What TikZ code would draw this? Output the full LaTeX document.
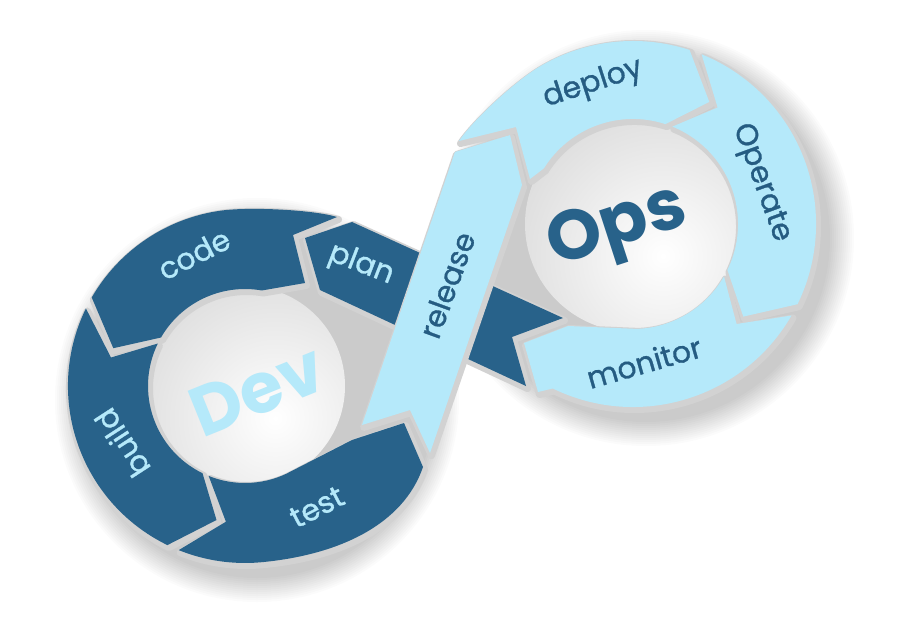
\documentclass[tikz,border=0pt]{standalone}
\usepackage{fontspec}
\setmainfont{Poppins}
\newfontfamily\labfont{Poppins}[FakeBold=1]
\definecolor{devblue}{HTML}{28628A}
\definecolor{opsblue}{HTML}{B5E9FA}
\definecolor{opstext}{HTML}{255C82}
\definecolor{gapgray}{HTML}{D2D2D2}

\begin{document}
\begin{tikzpicture}
  [x=1pt,y=-1pt,line join=round,
   seg/.style={preaction={fill=gapgray,draw=gapgray,line width=7pt,
     transform canvas={shift={(1.5,2.5)}}}},
   dev/.style={seg,fill=devblue},
   ops/.style={seg,fill=opsblue},
   lab/.style={inner sep=0pt,font=\labfont\fontsize{30}{30}\selectfont},
   big/.style={inner sep=0pt,font=\fontsize{70}{70}\selectfont\bfseries}]

  \useasboundingbox (0,0) rectangle (900,630);
  \fill[white] (0,0) rectangle (900,630);

  % soft shadow
  \foreach \k in {1,3,...,25}
    \fill[black,opacity=.014] (257,400) circle[radius=177+\k] (646,238) circle[radius=183+\k];

  % holes
  \begin{scope}
    \clip (245,386) circle[radius=100] (633,224) circle[radius=108];
    \shade[inner color=white,outer color=black!14] (275,418) circle[radius=160];
    \shade[inner color=white,outer color=black!14] (663,256) circle[radius=165];
  \end{scope}

  % Dev loop
  \path[dev] (337,217) .. controls (315,210) and (250,206.5) .. (220.4,210.7)
    arc[start angle=262,end angle=210,radius=177] -- (113.3,348.2) -- (161,337.5)
    arc[start angle=210,end angle=280,radius=97] -- (305,283) -- (293,235) -- cycle;
  \path[dev] (85.9,308.4) arc[start angle=206,end angle=116,radius=177] -- (216.5,520) -- (202.5,473.2)
    arc[start angle=116,end angle=206,radius=97] -- (111,357.5) -- cycle;
  \path[dev] (178.7,550.1) arc[start angle=112,end angle=85,radius=177]
    .. controls (340,555) and (403.5,524) .. (423,467) -- (404,423) -- (352,440) -- (286,473.9)
    arc[start angle=65,end angle=112,radius=97] -- (225.9,521.7) -- cycle;
  \path[dev] (352,222) -- (563,318) -- (512,337) -- (526,386) -- (320,290) -- (305,238) -- cycle;

  % Ops loop
  \path[ops] (362,425) -- (455,152) -- (510,135) -- (522,185) -- (430,453) -- (410,410) -- cycle;
  \path[ops] (459,141) .. controls (472.8,120.3) and (515.5,80.5) .. (541.5,65.5)
    arc[start angle=240,end angle=288,radius=183] -- (709.3,101.9) -- (665.4,124.1)
    arc[start angle=288,end angle=212,radius=105] -- (530,179) -- (516,127) -- cycle;
  \path[ops] (701.6,54.3) arc[start angle=292,end angle=386,radius=183] -- (743.3,316.6) -- (727.4,270)
    arc[start angle=386,end angle=292,radius=105] -- (717.6,107.5) -- cycle;
  \path[ops] (791.5,315.5) arc[start angle=30,end angle=116,radius=183] -- (538,392) -- (524,343) -- (568,326) -- (636.7,328.9)
    arc[start angle=88,end angle=30,radius=105] -- (736.6,324) -- cycle;

  \foreach \n/\x/\y/\a in {code/194/254/27,build/122/443/123,test/317/507/27,plan/361/265/-21}
    \node[lab,text=opsblue,rotate=\a] (\n) at (\x,\y) {\n};
  \foreach \n/\t/\x/\y/\a in {release/release/447/285/70,deploy/deploy/593/84/18,
      operate/Operate/761/183/-70,monitor/monitor/644/362/16}
    \node[lab,text=opstext,rotate=\a] (\n) at (\x,\y) {\t};
  \node[big,text=opsblue,rotate=22] (dev) at (257,390) {Dev};
  \node[big,text=devblue,rotate=18] (ops) at (618,230) {Ops};

\end{tikzpicture}
\end{document}
